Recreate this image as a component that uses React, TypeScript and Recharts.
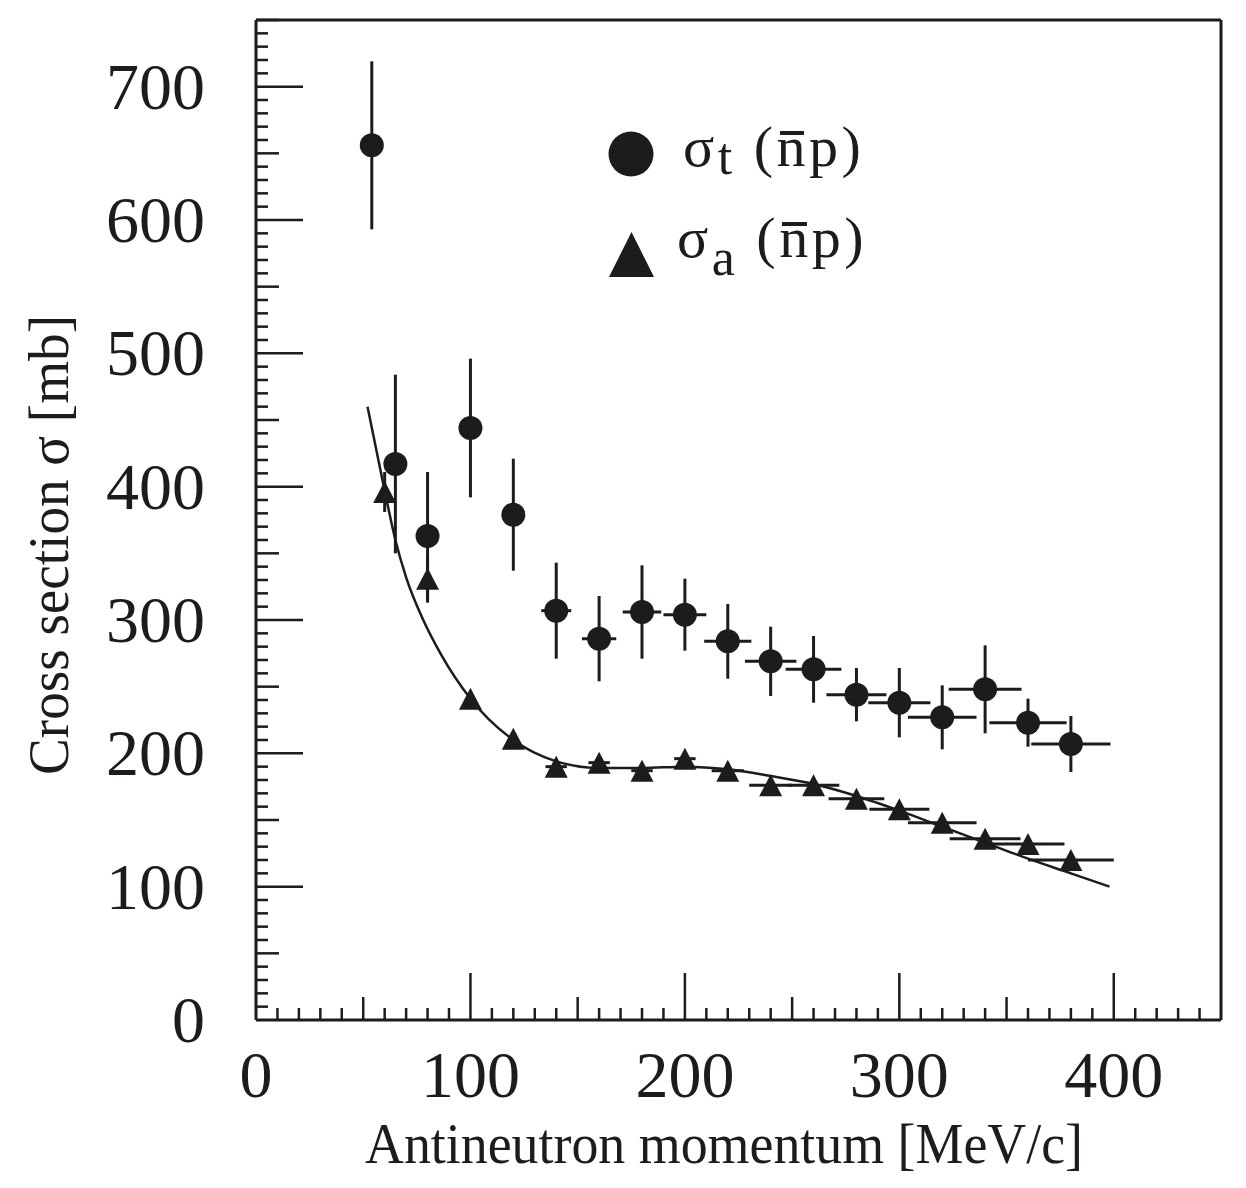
import { ComposedChart, XAxis, YAxis, Scatter, Line, ErrorBar, ReferenceLine, Legend } from "recharts";

const INK = "#1d1b1c";
const SERIF = "'Liberation Serif', 'Times New Roman', serif";

// sigma_t (n-bar p), filled circles
const totalMomentum = [54, 65, 80, 100, 120, 140, 160, 180, 200, 220, 240, 260, 280, 300, 320, 340, 360, 380];
const totalSigma = [656, 417, 363, 444, 379, 307, 286, 306, 304, 284, 269, 263, 244, 238, 227, 248, 223, 207];
const totalErrY = [63, 67, 48, 52, 42, 36, 32, 35, 27, 28, 26, 25, 20, 26, 24, 33, 18, 21];
const totalErrX = [0, 0, 0, 0, 0, 7, 8, 9, 10, 11, 12, 13, 14, 14.5, 16, 17, 18, 18.5];

// sigma_a (n-bar p), filled triangles
const annMomentum = [60, 80, 100, 120, 140, 160, 180, 200, 220, 240, 260, 280, 300, 320, 340, 360, 380];
const annSigma = [396, 331, 241, 211, 190, 193, 187, 196, 187, 176, 176, 166, 158, 148, 136, 132, 120];
const annErrY = [15, 18, 0, 0, 0, 0, 0, 0, 0, 0, 0, 0, 0, 0, 0, 0, 0];
const annErrX = [0, 0, 0, 0, 5, 5, 5, 5, 7.5, 10, 12, 13, 14, 16, 16.5, 17, 20];

// fitted curve through the annihilation data
const fitMomentum = [52, 60, 65, 70, 78, 86, 100, 120, 140, 160, 180, 200, 220, 240, 260, 280, 300, 320, 340, 360, 380, 398];
const fitSigma = [460, 397, 360, 332, 300, 275, 241, 210, 194, 189, 189, 190, 188, 183, 177, 168, 157, 145, 133, 121, 110, 100];

// axes
const xDomain = [0, 450];
const yDomain = [0, 750];
const xLabels = [0, 100, 200, 300, 400];
const yLabels = [0, 100, 200, 300, 400, 500, 600, 700];
const minorStep = 10;

const xTicks = Array.from({ length: xDomain[1] / minorStep + 1 }, (_, i) => i * minorStep);
const yTicks = Array.from({ length: yDomain[1] / minorStep + 1 }, (_, i) => i * minorStep);

const totalPoints = totalMomentum.map((x, i) => ({ x, y: totalSigma[i], ey: totalErrY[i], ex: totalErrX[i] }));
const annPoints = annMomentum.map((x, i) => ({ x, y: annSigma[i], ey: annErrY[i], ex: annErrX[i] }));
const fitPoints = fitMomentum.map((x, i) => ({ x, y: fitSigma[i] }));

const tickLength = (v: number) => (v % 100 === 0 ? 47 : v % 50 === 0 ? 23 : 12);

function XTick(props: any) {
  const { x, y, payload } = props;
  const v = payload.value;
  return (
    <g>
      {v > 0 && v < xDomain[1] && (
        <line x1={x} x2={x} y1={y} y2={y - tickLength(v)} stroke={INK} strokeWidth={2.5} />
      )}
      {xLabels.includes(v) && (
        <text x={x} y={y + 77} textAnchor="middle" fontSize={66} fontFamily={SERIF} fill={INK}>
          {v}
        </text>
      )}
    </g>
  );
}

function YTick(props: any) {
  const { x, y, payload } = props;
  const v = payload.value;
  return (
    <g>
      {v > 0 && (
        <line x1={x} x2={x + tickLength(v)} y1={y} y2={y} stroke={INK} strokeWidth={2.5} />
      )}
      {yLabels.includes(v) && (
        <text x={x - 51} y={y + 22} textAnchor="end" fontSize={66} fontFamily={SERIF} fill={INK}>
          {v}
        </text>
      )}
    </g>
  );
}

const renderCircle = (p: any) => <circle cx={p.cx} cy={p.cy} r={12} fill={INK} />;
const renderTriangle = (p: any) => (
  <polygon
    points={`${p.cx - 11.5},${p.cy + 11} ${p.cx + 11.5},${p.cy + 11} ${p.cx},${p.cy - 11}`}
    fill={INK}
  />
);

const renderXTitle = (props: any) => {
  const vb = props.viewBox;
  return (
    <text x={vb.x + 468} y={vb.y + 143} textAnchor="middle" fontSize={56} fontFamily={SERIF} fill={INK}
      textLength={718} lengthAdjust="spacingAndGlyphs">
      Antineutron momentum [MeV/c]
    </text>
  );
};

const renderYTitle = (props: any) => {
  const vb = props.viewBox;
  const cx = vb.x + 68;
  const cy = vb.y + vb.height * 0.525;
  return (
    <text x={cx} y={cy} transform={`rotate(-90, ${cx}, ${cy})`} textAnchor="middle" fontSize={56}
      fontFamily={SERIF} fill={INK} textLength={460} lengthAdjust="spacingAndGlyphs">
      Cross section σ [mb]
    </text>
  );
};

const legendText: React.CSSProperties = {
  position: "absolute",
  fontSize: 58,
  lineHeight: "66px",
  whiteSpace: "nowrap",
  letterSpacing: 3.5,
};

// n with a bar placed just above its x-height
const NBar = () => (
  <span style={{ position: "relative", display: "inline-block" }}>
    n
    <span style={{ position: "absolute", left: 3, right: 5, top: 17, height: 4, background: INK }} />
  </span>
);

const renderLegend = () => (
  <div style={{ position: "relative", width: 300, height: 180, fontFamily: SERIF, color: INK }}>
    <svg style={{ position: "absolute", left: 0, top: 0 }} width={300} height={180}>
      <circle cx={31} cy={44} r={22.5} fill={INK} />
      <polygon points="9,167 54,167 31.5,122" fill={INK} />
    </svg>
    <div style={{ ...legendText, left: 83, top: 4 }}>
      σ<span style={{ fontSize: 52, position: "relative", top: 8 }}>t</span> (<NBar />p)
    </div>
    <div style={{ ...legendText, left: 77, top: 95 }}>
      σ<span style={{ fontSize: 52, position: "relative", top: 18 }}>a</span> (<NBar />p)
    </div>
  </div>
);

export default function App() {
  return (
    <div style={{ position: "absolute", left: 0, top: 0, background: "#fff" }}>
      <ComposedChart width={1246} height={1188} margin={{ top: 20, right: 25, bottom: 0, left: 0 }}>
        <XAxis
          dataKey="x"
          type="number"
          domain={xDomain}
          ticks={xTicks}
          interval={0}
          height={168}
          tickSize={0}
          tickMargin={0}
          tickLine={false}
          axisLine={{ stroke: INK, strokeWidth: 3 }}
          tick={XTick}
          label={renderXTitle}
          allowDataOverflow
        />
        <YAxis
          type="number"
          domain={yDomain}
          ticks={yTicks}
          interval={0}
          width={256}
          tickSize={0}
          tickMargin={0}
          tickLine={false}
          axisLine={{ stroke: INK, strokeWidth: 3 }}
          tick={YTick}
          label={renderYTitle}
          allowDataOverflow
        />
        <ReferenceLine y={750} stroke={INK} strokeWidth={3} />
        <ReferenceLine x={450} stroke={INK} strokeWidth={3} />
        <Legend
          layout="horizontal"
          verticalAlign="middle"
          align="center"
          wrapperStyle={{ left: 600, top: 110, width: 300, height: 180 }}
          content={renderLegend}
        />
        <Line
          data={fitPoints}
          dataKey="y"
          type="monotone"
          dot={false}
          stroke={INK}
          strokeWidth={2.5}
          isAnimationActive={false}
        />
        <Scatter data={annPoints} dataKey="y" shape={renderTriangle} isAnimationActive={false}>
          <ErrorBar dataKey="ey" direction="y" width={0} stroke={INK} strokeWidth={3} />
          <ErrorBar dataKey="ex" direction="x" width={0} stroke={INK} strokeWidth={3} />
        </Scatter>
        <Scatter data={totalPoints} dataKey="y" shape={renderCircle} isAnimationActive={false}>
          <ErrorBar dataKey="ey" direction="y" width={0} stroke={INK} strokeWidth={3} />
          <ErrorBar dataKey="ex" direction="x" width={0} stroke={INK} strokeWidth={3} />
        </Scatter>
      </ComposedChart>
    </div>
  );
}
